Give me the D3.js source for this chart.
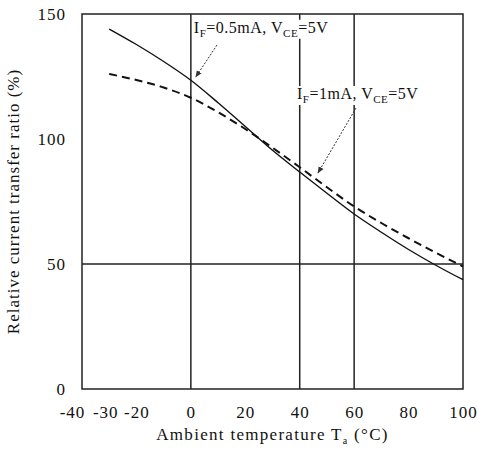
<!DOCTYPE html>
<html lang="en">
<head>
<meta charset="UTF-8">
<title>Relative current transfer ratio vs ambient temperature</title>
<script src="https://d3js.org/d3.v7.min.js"></script>
<style>
	body { margin: 0; background: #fff; }
	text { font-family: "Liberation Serif", "DejaVu Serif", serif; fill: #111; }
</style>
</head>
<body>
<script>
	// temperatures (°C) the curves were read at
	var temps = [-30, -20, -10, 0, 10, 20, 30, 40, 50, 60, 70, 80, 90, 100];
	// IF = 0.5mA, VCE = 5V (solid)
	var ctrHalf = [144, 137.8, 131, 123.5, 114.5, 105, 95.5, 86.8, 78.3, 70, 62.7, 55.8, 49.5, 43.7];
	// IF = 1mA, VCE = 5V (dashed)
	var ctrOne = [126, 123.6, 120.6, 116.5, 110.7, 104, 96.5, 88.7, 80.7, 73, 66.4, 60.3, 54.5, 49];

	var xTicks = [-40, -30, -20, 0, 20, 40, 60, 80, 100];
	var yTicks = [0, 50, 100, 150];
	var xGrid = [0, 40, 60];
	var yGrid = [50];

	var margin = {top: 14, left: 82, bottom: 70, right: 14};
	var W = 477, H = 459;
	var width = W - margin.left - margin.right;
	var height = H - margin.top - margin.bottom;

	var svg = d3.select('body').append('svg')
		.attr('width', W)
		.attr('height', H)
		.append('g')
		.attr('transform', 'translate(' + margin.left + ',' + margin.top + ')');

	var x = d3.scaleLinear().domain([-40, 100]).range([0, width]);
	var y = d3.scaleLinear().domain([0, 150]).range([height, 0]);

	// grid
	svg.selectAll('.vgrid').data(xGrid).enter().append('line')
		.attr('x1', function (d) { return x(d); })
		.attr('x2', function (d) { return x(d); })
		.attr('y1', 0).attr('y2', height)
		.style('stroke', '#222').style('stroke-width', 1.5);
	svg.selectAll('.hgrid').data(yGrid).enter().append('line')
		.attr('x1', 0).attr('x2', width)
		.attr('y1', function (d) { return y(d); })
		.attr('y2', function (d) { return y(d); })
		.style('stroke', '#222').style('stroke-width', 1.5);

	// frame
	svg.append('rect')
		.attr('width', width).attr('height', height)
		.style('fill', 'none').style('stroke', '#222').style('stroke-width', 1.5);

	// axes (labels only, frame drawn above)
	var plain = function (d) { return String(d); };
	var xAxis = svg.append('g')
		.attr('transform', 'translate(0,' + height + ')')
		.call(d3.axisBottom(x).tickValues(xTicks).tickFormat(plain).tickSize(0).tickPadding(17));
	var yAxis = svg.append('g')
		.call(d3.axisLeft(y).tickValues(yTicks).tickFormat(plain).tickSize(0).tickPadding(16));
	[xAxis, yAxis].forEach(function (a) {
		a.select('.domain').remove();
		a.selectAll('text')
			.style('font-family', '"Liberation Serif", serif')
			.style('font-size', '17px')
			.style('letter-spacing', '1px')
			.style('fill', '#111');
	});
	// the crowded -40 / -30 labels sit a little to the left in the original
	xAxis.selectAll('.tick text')
		.attr('dx', function (d) { return d === -40 ? -10 : (d === -30 ? -4 : 0); });

	// curves
	var line = d3.line()
		.x(function (d) { return x(d[0]); })
		.y(function (d) { return y(d[1]); })
		.curve(d3.curveMonotoneX);

	svg.append('path')
		.datum(d3.zip(temps, ctrOne))
		.attr('d', line)
		.style('fill', 'none').style('stroke', '#111')
		.style('stroke-width', 2).style('stroke-dasharray', '8,5');

	svg.append('path')
		.datum(d3.zip(temps, ctrHalf))
		.attr('d', line)
		.style('fill', 'none').style('stroke', '#111')
		.style('stroke-width', 1.4);

	// arrow marker
	svg.append('defs').append('marker')
		.attr('id', 'arr')
		.attr('viewBox', '0 0 10 10')
		.attr('refX', 9).attr('refY', 5)
		.attr('markerWidth', 7).attr('markerHeight', 7)
		.attr('orient', 'auto')
		.append('path').attr('d', 'M0,1L10,5L0,9Z').style('fill', '#333');

	// annotations
	function label(tx, ty, iNum, from, to) {
		var bg = svg.append('rect').style('fill', '#fff');
		var t = svg.append('text')
			.attr('x', x(tx)).attr('y', y(ty))
			.style('font-size', '16px').style('letter-spacing', '0.5px');
		t.append('tspan').text('I');
		t.append('tspan').attr('dy', 4).style('font-size', '11px').text('F');
		t.append('tspan').attr('dy', -4).text('=' + iNum + 'mA, V');
		t.append('tspan').attr('dy', 4).style('font-size', '11px').text('CE');
		t.append('tspan').attr('dy', -4).text('=5V');
		var b = t.node().getBBox();
		bg.attr('x', b.x - 1).attr('y', b.y + 1).attr('width', b.width + 2).attr('height', b.height - 1);
		svg.append('line')
			.attr('x1', x(from[0])).attr('y1', y(from[1]))
			.attr('x2', x(to[0])).attr('y2', y(to[1]))
			.style('stroke', '#333').style('stroke-width', 1)
			.style('stroke-dasharray', '2,1.5')
			.attr('marker-end', 'url(#arr)');
	}
	label(1.1, 142.5, '0.5', [9.6, 137.6], [1.8, 124.8]);
	label(39, 116, '1', [60.7, 112.4], [46.7, 86.4]);

	// axis titles
	var xt = svg.append('text')
		.attr('x', width / 2).attr('y', height + 51)
		.style('text-anchor', 'middle').style('font-size', '17px').style('letter-spacing', '1.3px');
	xt.append('tspan').text('Ambient temperature T');
	xt.append('tspan').attr('dy', 4).style('font-size', '10px').text('a');
	xt.append('tspan').attr('dy', -4).text(' (°C)');

	svg.append('text')
		.attr('transform', 'rotate(-90)')
		.attr('x', -height / 2).attr('y', -63)
		.style('text-anchor', 'middle').style('font-size', '17px').style('letter-spacing', '1px')
		.text('Relative current transfer ratio (%)');
</script>
</body>
</html>
